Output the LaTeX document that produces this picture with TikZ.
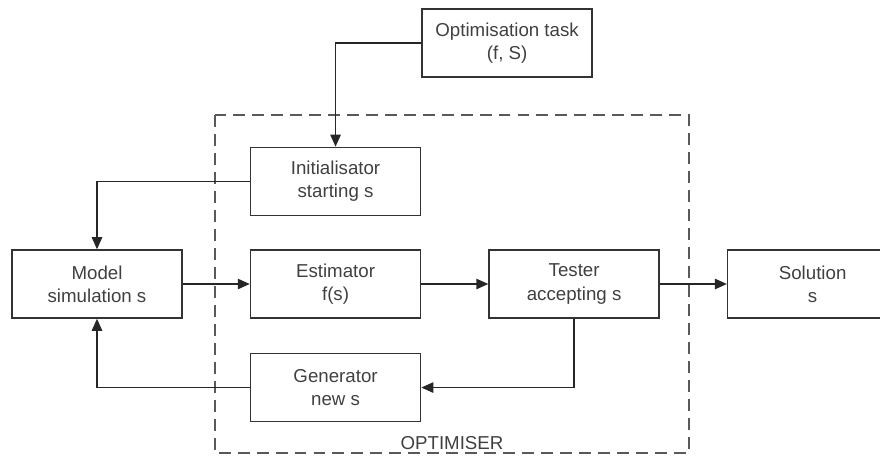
\documentclass[tikz,border=0pt]{standalone}
\usepackage{fontspec}
\setmainfont{Liberation Sans}
\usepackage{tikz}
\usetikzlibrary{positioning,arrows.meta}

\begin{document}
\begin{tikzpicture}[
  every node/.style={font=\fontsize{13.3}{16.5}\selectfont, text=black!75},
  box/.style={draw=black!80, line width=1.1pt, rectangle, minimum width=4.25cm, minimum height=1.7cm, align=center},
  arr/.style={-{Triangle[length=3mm,width=2.6mm]}, line width=1pt, black!85},
  optim/.style={draw=black!65, line width=1pt, dash pattern=on 8.5pt off 5pt}
]
\useasboundingbox (0,0) rectangle (22,-11.375);

\node[box] (model) at (2.425,-7.1) {Model\\simulation s};
\node[box, right=1.675cm of model] (est) {Estimator\\f(s)};
\node[box, right=1.675cm of est] (tester) {Tester\\accepting s};
\node[box, right=1.675cm of tester] (sol) {Solution\\s};
\node[box, above=0.825cm of est] (init) {Initialisator\\starting s};
\node[box, below=0.85cm of est] (gen) {Generator\\new s};
\node[box, above right=1.725cm and 0cm of init] (task) {Optimisation task\\(f, S)};

\draw[optim] (5.375,-2.875) rectangle (17.225,-11.325);
\node[above, inner sep=2.5pt] (optlbl) at (11.3,-11.325) {OPTIMISER};

\draw[arr] (task.west) -| (init.north);
\draw[arr] (init.west) -| (model.north);
\draw[arr] (model) -- (est);
\draw[arr] (est) -- (tester);
\draw[arr] (tester) -- (sol);
\draw[arr] (tester.south) |- (gen.east);
\draw[arr] (gen.west) -| (model.south);
\end{tikzpicture}
\end{document}
